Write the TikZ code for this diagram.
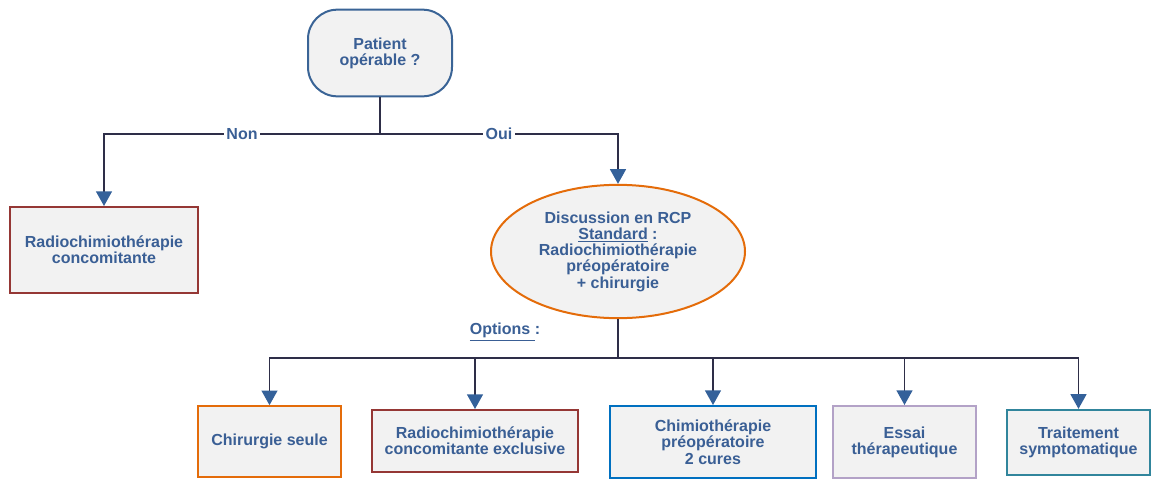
\documentclass[tikz,border=0pt]{standalone}
\usepackage{fontspec}
\setmainfont{Liberation Sans}
\usetikzlibrary{arrows.meta,positioning,shapes.geometric}
\definecolor{rcpText}{HTML}{3A5F95}
\definecolor{rcpLine}{HTML}{2E2E48}
\definecolor{rcpTip}{HTML}{34619A}
\definecolor{rcpFill}{HTML}{F2F2F2}
\definecolor{rcpBlue}{HTML}{3A6496}
\definecolor{rcpRed}{HTML}{953735}
\definecolor{rcpOrange}{HTML}{E46C0A}
\definecolor{rcpSky}{HTML}{0070C0}
\definecolor{rcpLilac}{HTML}{B3A2C7}
\definecolor{rcpTeal}{HTML}{31859C}
\tikzset{
  txt/.style     ={text=rcpText,font=\fontsize{12}{12.2}\selectfont\bfseries},
  box/.style     ={txt,draw,line width=1.5pt,fill=rcpFill,align=center,inner sep=2pt},
  decision/.style={box,draw=rcpBlue,rounded corners=22pt},
  rcpbubble/.style={box,ellipse,draw=rcpOrange},
  link/.style    ={rcpLine,line width=1pt},
  arr/.style     ={link,-{Triangle[length=11pt,width=12pt,color=rcpTip]}},
  yesno/.style   ={txt,fill=white,inner sep=2pt},
}
\begin{document}
\begin{tikzpicture}[x=0.75pt,y=-0.75pt]
\useasboundingbox (0,0) rectangle (1154,479);
% decision
\node[decision,minimum width=108pt,minimum height=65pt] (patient) at (380,53)
  {Patient\\op\'erable ?};
\node[box,draw=rcpRed,minimum width=141pt,minimum height=64.5pt] (rct) at (104,250)
  {Radiochimioth\'erapie\\concomitante};
\node[rcpbubble,minimum width=190.5pt,minimum height=100pt] (rcp) at (618,251.5)
  {Discussion en RCP\\\underline{Standard} :\\Radiochimioth\'erapie\\pr\'eop\'eratoire\\+ chirurgie};
% options
\node[txt] (opt) at (505,332) {\underline{Options\ }:};
\node[box,draw=rcpOrange,minimum width=107pt,minimum height=53pt] (chir) at (269.5,441.5)
  {Chirurgie seule};
\node[box,draw=rcpRed,minimum width=154.5pt,minimum height=46.5pt] (rctx) at (475,441)
  {Radiochimioth\'erapie\\concomitante exclusive};
\node[box,draw=rcpSky,minimum width=154.5pt,minimum height=54pt] (chimio) at (713,442)
  {Chimioth\'erapie\\pr\'eop\'eratoire\\2 cures};
\node[box,draw=rcpLilac,minimum width=107pt,minimum height=54pt] (essai) at (904.5,442)
  {Essai\\th\'erapeutique};
\node[box,draw=rcpTeal,minimum width=107pt,minimum height=49pt] (symp) at (1078.5,442.5)
  {Traitement\\symptomatique};
% connectors
\coordinate (split) at (380,134);
\coordinate (obar) at (618,358);
\draw[link] (patient.south) -- (split);
\draw[arr] (split) -| node[yesno,pos=0.25] (non) {Non} (rct.north);
\draw[arr] (split) -| node[yesno,pos=0.25] (oui) {Oui} (rcp.north);
\draw[link] (rcp.south) -- (obar);
\foreach \n in {chir,rctx,chimio,essai,symp}
  \draw[arr] (obar) -| (\n.north);
\end{tikzpicture}
\end{document}
